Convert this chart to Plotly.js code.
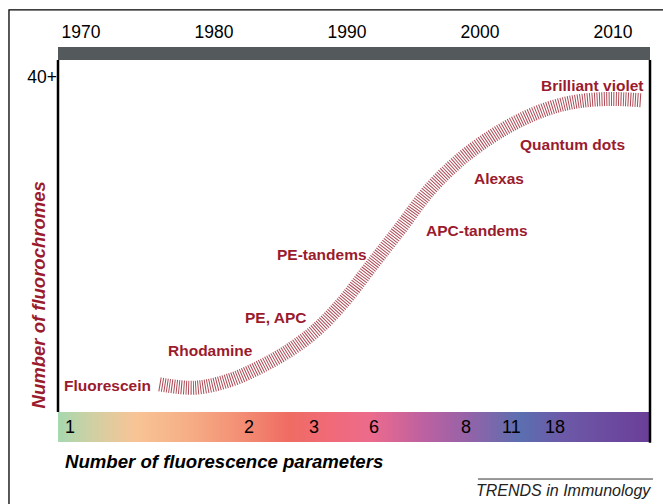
<!DOCTYPE html>
<html>
<head>
<meta charset="utf-8">
<script src="https://cdn.plot.ly/plotly-3.0.1.min.js"></script>
<style>html,body{margin:0;padding:0;background:#fff;}#chart{width:663px;height:504px;}</style>
</head>
<body>
<div id="chart"></div>
<script>
// ---- data ----
var decadeTicks = [1970, 1980, 1990, 2000, 2010];
var curveYears = [1975.9, 1978.6, 1981.2, 1983.5, 1985.7, 1987.7, 1989.7, 1991.7, 1994.0, 1996.2, 1998.5, 2000.8, 2003.0, 2005.3, 2007.5, 2009.8, 2012.1];
var curveCounts = [3.3, 2.9, 3.8, 5.4, 7.4, 9.8, 13.1, 17.2, 21.9, 26.5, 30.1, 32.8, 34.8, 36.3, 37.1, 37.35, 37.2];
var dyeNames = ['Fluorescein', 'Rhodamine', 'PE, APC', 'PE-tandems', 'APC-tandems', 'Alexas', 'Quantum dots', 'Brilliant violet'];
var dyeYears = [1968.6, 1976.4, 1982.2, 1984.6, 1995.8, 1999.4, 2002.85, 2004.45];
var dyeCounts = [3.2, 7.3, 11.3, 18.8, 21.7, 27.9, 31.9, 39.0];
var paramLabels = ['1', '2', '3', '6', '8', '11', '18'];
var paramYears = [1969.2, 1982.6, 1987.5, 1992.0, 1998.95, 2002.4, 2005.6];
var gradYears = [1968.0, 1971.05, 1974.06, 1978.05, 1982.1, 1985.56, 1988.72, 1991.73, 1995.49, 1999.25, 2003.0, 2006.0, 2013.0];
var gradColors = ['#a3d9b1', '#d3cfa2', '#f8c496', '#f6ae86', '#f38d74', '#ef6c63', '#f06a78', '#ec6b8c', '#c061a0', '#9263a8', '#5b6fb0', '#6c5aa8', '#6b3d97'];

// ---- build ----
var RED = '#9b1b2e';
var FONT = 'Liberation Sans, Arial, Helvetica, sans-serif';
var idx = gradYears.map(function (_, i) { return i; });
var cscale = gradColors.map(function (c, i) { return [i / (gradColors.length - 1), c]; });

var traces = [
  {
    type: 'heatmap', x: gradYears, y: [0, 1], z: [idx, idx],
    xaxis: 'x', yaxis: 'y2', colorscale: cscale, zsmooth: 'best',
    showscale: false, hoverinfo: 'skip'
  },
  {
    type: 'scatter', mode: 'lines', x: curveYears, y: curveCounts,
    xaxis: 'x', yaxis: 'y',
    line: { color: '#ad4a55', width: 14, shape: 'spline', smoothing: 1, dash: '1px,1.4px' },
    hoverinfo: 'skip'
  }
];

var annotations = [];
dyeNames.forEach(function (n, i) {
  annotations.push({
    xref: 'x', yref: 'y', x: dyeYears[i], y: dyeCounts[i], text: n,
    xanchor: 'left', yanchor: 'middle', showarrow: false,
    font: { family: FONT, size: 15.5, color: RED, weight: 'bold' }
  });
});
paramLabels.forEach(function (t, i) {
  annotations.push({
    xref: 'x', yref: 'y2', x: paramYears[i], y: 0.5, text: t,
    xanchor: 'center', yanchor: 'middle', showarrow: false,
    font: { family: FONT, size: 18, color: '#000' }
  });
});
annotations.push({
  xref: 'paper', yref: 'paper', x: -0.033, y: 0.385, text: 'Number of fluorochromes',
  textangle: -90, showarrow: false, xanchor: 'center', yanchor: 'middle',
  font: { family: FONT, size: 18.5, color: RED, weight: 'bold', style: 'italic' }
});
annotations.push({
  xref: 'paper', yref: 'paper', x: 0.0084, y: -0.052, text: 'Number of fluorescence parameters',
  showarrow: false, xanchor: 'left', yanchor: 'middle',
  font: { family: FONT, size: 18.6, color: '#000', weight: 'bold', style: 'italic' }
});
annotations.push({
  xref: 'paper', yref: 'paper', x: 1.005, y: -0.1257, text: 'TRENDS in Immunology',
  showarrow: false, xanchor: 'right', yanchor: 'middle',
  font: { family: FONT, size: 16, color: '#222', style: 'italic' }
});

var shapes = [
  // dark bar above plot
  { type: 'rect', xref: 'paper', yref: 'paper', x0: 0, x1: 1, y0: 1, y1: 1 + 13 / 382, fillcolor: '#54595b', line: { width: 0 } },
  // left and right frame lines
  { type: 'line', xref: 'paper', yref: 'paper', x0: 0, x1: 0, y0: 30 / 382, y1: 1, line: { color: '#000', width: 2.5 } },
  { type: 'line', xref: 'paper', yref: 'paper', x0: 1, x1: 1, y0: -0.002, y1: 1, line: { color: '#000', width: 2.5 } },
  // outer frame (right and bottom edges fall outside the picture)
  { type: 'rect', xref: 'paper', yref: 'paper', x0: -0.0828, x1: 1.08, y0: -0.22, y1: 1.131, line: { color: '#000', width: 1.3 }, fillcolor: 'rgba(0,0,0,0)' },
  // rule above TRENDS
  { type: 'line', xref: 'paper', yref: 'paper', x0: 0.7095, x1: 1.005, y0: -0.0969, y1: -0.0969, line: { color: '#333', width: 1 } }
];

var layout = {
  width: 663, height: 504,
  margin: { l: 58, r: 13, t: 60, b: 62, pad: 0 },
  paper_bgcolor: '#fff', plot_bgcolor: '#fff',
  showlegend: false,
  font: { family: FONT },
  xaxis: {
    side: 'top', range: [1968.27, 2012.78], tickvals: decadeTicks,
    ticks: 'outside', ticklen: 14, tickcolor: 'rgba(0,0,0,0)',
    tickfont: { family: FONT, size: 17.5, color: '#000' },
    showgrid: false, zeroline: false, showline: false, fixedrange: true
  },
  yaxis: {
    domain: [30 / 382, 1], range: [0, 42], tickvals: [40], ticktext: ['40+'],
    ticks: '', tickfont: { family: FONT, size: 17.5, color: '#000' },
    showgrid: false, zeroline: false, showline: false, fixedrange: true
  },
  yaxis2: {
    domain: [0, 30 / 382], range: [0, 1], anchor: 'x',
    showticklabels: false, ticks: '', showgrid: false, zeroline: false, showline: false, fixedrange: true
  },
  annotations: annotations,
  shapes: shapes
};

Plotly.newPlot('chart', traces, layout, { displayModeBar: false, staticPlot: true });
</script>
</body>
</html>
